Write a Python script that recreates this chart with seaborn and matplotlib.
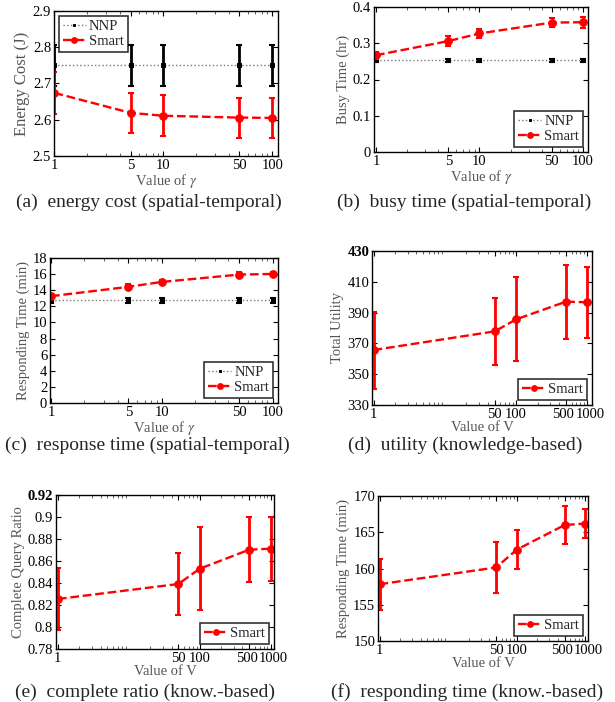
import numpy as np
import pandas as pd
import matplotlib
matplotlib.use("Agg")
import matplotlib.pyplot as plt
import matplotlib.transforms as mtransforms
import seaborn as sns

# --- DATA ---
gamma = [1, 5, 10, 50, 100]
v_vals = [1, 50, 100, 500, 1000]

# (a) energy cost
energy_nnp = [2.75, 2.75, 2.75, 2.75, 2.75]
energy_nnp_err = [0.056, 0.056, 0.056, 0.056, 0.056]
energy_smart = [2.674, 2.619, 2.611, 2.606, 2.605]
energy_smart_err = [0.057, 0.055, 0.056, 0.055, 0.055]

# (b) busy time
busy_nnp = [0.2526, 0.2526, 0.2526, 0.2526, 0.2526]
busy_nnp_err = [0.005, 0.005, 0.005, 0.005, 0.005]
busy_smart = [0.267, 0.306, 0.327, 0.357, 0.358]
busy_smart_err = [0.010, 0.014, 0.012, 0.013, 0.015]

# (c) response time
resp_nnp = [12.73, 12.73, 12.73, 12.73, 12.73]
resp_nnp_err = [0.3, 0.3, 0.3, 0.3, 0.3]
resp_smart = [13.26, 14.42, 15.03, 15.94, 16.02]
resp_smart_err = [0.3, 0.3, 0.3, 0.3, 0.3]

# (d) utility
util_smart = [365.7, 377.8, 385.6, 397.1, 396.7]
util_smart_err = [25.0, 22.0, 27.3, 24.0, 23.0]

# (e) complete query ratio
ratio_smart = [0.8255, 0.8391, 0.853, 0.8703, 0.8712]
ratio_smart_err = [0.0283, 0.0284, 0.038, 0.0297, 0.0291]

# (f) responding time (knowledge-based)
kresp_smart = [157.83, 160.14, 162.6, 166.0, 166.2]
kresp_smart_err = [3.5, 3.55, 2.7, 2.6, 2.0]

W, H = 615, 702
FS = 10.5

sns.set_style("ticks")
plt.rcParams['font.family'] = ['Liberation Serif', 'DejaVu Serif']
plt.rcParams['mathtext.fontset'] = 'stix'
plt.rcParams['xtick.direction'] = 'in'
plt.rcParams['ytick.direction'] = 'in'
plt.rcParams['xtick.top'] = True
plt.rcParams['ytick.right'] = True
plt.rcParams['axes.linewidth'] = 1.0

fig = plt.figure(figsize=(W / 100, H / 100), dpi=100)


def make_ax(l, t, r, b):
    return fig.add_axes([l / W, 1 - b / H, (r - l) / W, (b - t) / H])


def draw_nnp(ax, x, y, err):
    df = pd.DataFrame({'x': x, 'y': y})
    sns.lineplot(data=df, x='x', y='y', ax=ax, color='#777777', linestyle=':',
                 marker='s', markersize=2.8, linewidth=1.0,
                 markerfacecolor='black', markeredgecolor='black', label='NNP')
    ax.errorbar(x, y, yerr=err, fmt='none', ecolor='black', elinewidth=2,
                capsize=2.5, capthick=1.5)


def draw_smart(ax, x, y, err):
    df = pd.DataFrame({'x': x, 'y': y})
    sns.lineplot(data=df, x='x', y='y', ax=ax, color='red', linestyle='--',
                 marker='o', markersize=5.5, linewidth=1.7,
                 markeredgecolor='red', label='Smart')
    ax.errorbar(x, y, yerr=err, fmt='none', ecolor='red', elinewidth=2,
                capsize=2.5, capthick=1.5)


def style_ax(ax, xticks, xlim, ylim, yticks, ylabel, xlabel, legloc,
             bold_top=False, ylab_fs=FS):
    ax.set_xscale('log')
    ax.set_xlim(*xlim)
    ax.set_ylim(*ylim)
    ax.set_xticks(xticks)
    ax.set_xticklabels([str(t) for t in xticks])
    ax.set_yticks(yticks)
    ax.set_yticklabels(['%g' % t for t in yticks])
    ax.tick_params(axis='both', which='major', labelsize=FS, length=3.5,
                   width=0.8, pad=2, colors='black')
    ax.tick_params(axis='x', which='minor', length=2, width=0.5)
    if bold_top:
        ax.get_yticklabels()[-1].set_fontweight('bold')
    # 500 and 1000 sit right next to each other; nudge them apart a little
    for lab in ax.get_xticklabels():
        dx = {'500': -2.5, '1000': 2.5}.get(lab.get_text(), 0)
        if dx:
            lab.set_transform(lab.get_transform() +
                              mtransforms.ScaledTranslation(dx / 100, 0, fig.dpi_scale_trans))
    ax.set_ylabel(ylabel, fontsize=ylab_fs, color='#555555', labelpad=2)
    ax.set_xlabel(xlabel, fontsize=FS, color='#555555', labelpad=0)
    leg = ax.legend(loc=legloc, fontsize=FS, frameon=True, fancybox=False,
                    edgecolor='black', handlelength=1.6, borderpad=0.25,
                    labelspacing=0.15, handletextpad=0.2, borderaxespad=0.35,
                    markerscale=0.75)
    leg.get_frame().set_linewidth(1.2)
    for sp in ax.spines.values():
        sp.set_visible(True)
        sp.set_color('black')


# (a) energy cost
ax = make_ax(54, 11, 278, 156)
draw_nnp(ax, gamma, energy_nnp, energy_nnp_err)
draw_smart(ax, gamma, energy_smart, energy_smart_err)
style_ax(ax, gamma, (0.99, 113), (2.5, 2.9), [2.5, 2.6, 2.7, 2.8, 2.9],
         'Energy Cost (J)', r'Value of $\gamma$', 'upper left', ylab_fs=12)

# (b) busy time
ax = make_ax(374, 7, 588, 152)
draw_nnp(ax, gamma, busy_nnp, busy_nnp_err)
draw_smart(ax, gamma, busy_smart, busy_smart_err)
style_ax(ax, gamma, (0.957, 112), (0, 0.4), [0, 0.1, 0.2, 0.3, 0.4],
         'Busy Time (hr)', r'Value of $\gamma$', 'lower right')

# (c) response time
ax = make_ax(50, 258, 278, 403)
draw_nnp(ax, gamma, resp_nnp, resp_nnp_err)
draw_smart(ax, gamma, resp_smart, resp_smart_err)
style_ax(ax, gamma, (0.98, 112), (0, 18), list(range(0, 19, 2)),
         'Responding Time (min)', r'Value of $\gamma$', 'lower right')

# (d) utility
ax = make_ax(372, 251, 592, 405)
draw_smart(ax, v_vals, util_smart, util_smart_err)
style_ax(ax, v_vals, (0.95, 1160), (330, 430), list(range(330, 431, 20)),
         'Total Utility', 'Value of V', 'lower right', bold_top=True)

# (e) complete query ratio
ax = make_ax(56, 495, 274, 649)
draw_smart(ax, v_vals, ratio_smart, ratio_smart_err)
style_ax(ax, v_vals, (0.94, 1114), (0.78, 0.92),
         [0.78, 0.80, 0.82, 0.84, 0.86, 0.88, 0.90, 0.92],
         'Complete Query Ratio', 'Value of V', 'lower right', bold_top=True)

# (f) responding time
ax = make_ax(378, 496, 588, 641)
draw_smart(ax, v_vals, kresp_smart, kresp_smart_err)
style_ax(ax, v_vals, (0.95, 1094), (150, 170), [150, 155, 160, 165, 170],
         'Responding Time (min)', 'Value of V', 'lower right')

# captions
captions = [
    (149, 202, '(a)  energy cost (spatial-temporal)'),
    (464, 202, '(b)  busy time (spatial-temporal)'),
    (147, 445, '(c)  response time (spatial-temporal)'),
    (465, 445, '(d)  utility (knowledge-based)'),
    (145, 692, '(e)  complete ratio (know.-based)'),
    (467, 692, '(f)  responding time (know.-based)'),
]
for cx, cy, txt in captions:
    fig.text(cx / W, 1 - cy / H, txt, ha='center', va='center', fontsize=14)

fig.savefig('out.png', dpi=100)
